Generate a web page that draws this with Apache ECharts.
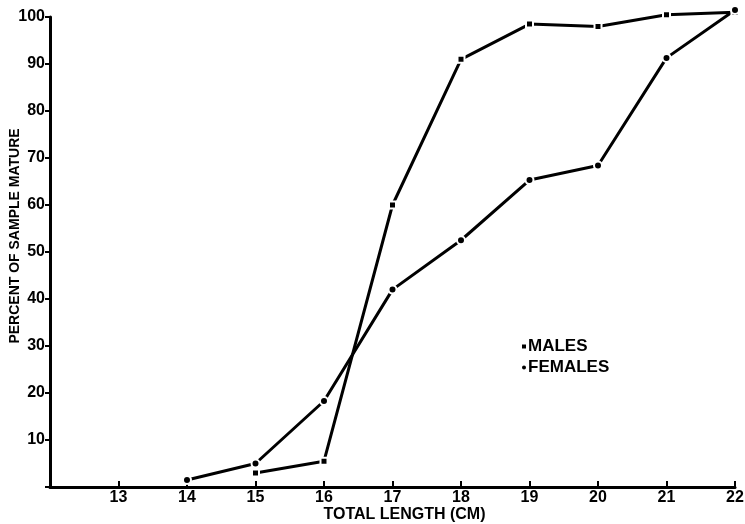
<!DOCTYPE html>
<html>
<head>
<meta charset="utf-8">
<script src="https://cdn.jsdelivr.net/npm/echarts@6/dist/echarts.min.js"></script>
<style>
  html, body { margin: 0; padding: 0; background: #fff; }
  #main { width: 745px; height: 524px; }
</style>
</head>
<body>
<div id="main"></div>
<script>
// data
var maleLength = [15, 16, 17, 18, 19, 20, 21, 22];
var malePct = [3, 5.5, 60, 91, 98.5, 98, 100.5, 101];
var femaleLength = [14, 15, 16, 17, 18, 19, 20, 21, 22];
var femalePct = [1.5, 5, 18.3, 42, 52.5, 65.3, 68.4, 91.3, 101.5];
var yTicks = [10, 20, 30, 40, 50, 60, 70, 80, 90, 100];

function pairs(xs, ys) {
  return xs.map(function (x, i) { return [x, ys[i]]; });
}

var font = '"Liberation Sans", Arial, sans-serif';
var chart = echarts.init(document.getElementById('main'));

var option = {
  backgroundColor: '#fff',
  animation: false,
  grid: { left: 50, right: 10, top: 17, bottom: 37, containLabel: false, outerBoundsMode: 'none' },
  legend: {
    orient: 'vertical',
    left: 520,
    top: 338,
    itemWidth: 6,
    itemHeight: 6,
    itemGap: 4,
    padding: 0,
    textStyle: { fontFamily: font, fontWeight: 'bold', fontSize: 17, color: '#000', padding: [0, 0, 0, -4] },
    data: [
      { name: 'MALES', icon: 'rect' },
      { name: 'FEMALES', icon: 'circle' }
    ]
  },
  xAxis: {
    type: 'value',
    min: 12,
    max: 22,
    interval: 1,
    name: 'TOTAL LENGTH (CM)',
    nameLocation: 'middle',
    nameMoveOverlap: false,
    nameGap: 20,
    nameTextStyle: { fontFamily: font, fontWeight: 'bold', fontSize: 16, color: '#000', padding: [0, 0, 0, 24] },
    axisLine: { lineStyle: { color: '#000', width: 3 } },
    axisTick: { inside: true, length: 6, lineStyle: { color: '#000', width: 2 } },
    axisLabel: {
      fontFamily: font, fontWeight: 'bold', fontSize: 16, color: '#000', margin: 3,
      formatter: function (v) { return v === 12 ? '' : v; }
    },
    splitLine: { show: false }
  },
  yAxis: {
    type: 'value',
    min: 0,
    max: 100,
    interval: 10,
    name: 'PERCENT OF SAMPLE MATURE',
    nameLocation: 'middle',
    nameRotate: 90,
    nameMoveOverlap: false,
    nameGap: 28,
    nameTextStyle: { fontFamily: font, fontWeight: 'bold', fontSize: 14, color: '#000', padding: [0, 0, 0, 32] },
    axisLine: { show: true, lineStyle: { color: '#000', width: 3 } },
    axisTick: { show: true, length: 5, lineStyle: { color: '#000', width: 2 } },
    axisLabel: {
      fontFamily: font, fontWeight: 'bold', fontSize: 16, color: '#000', margin: 5,
      formatter: function (v) { return yTicks.indexOf(v) >= 0 ? v : ''; }
    },
    splitLine: { show: false }
  },
  series: [
    {
      name: 'MALES',
      type: 'line',
      clip: false,
      symbol: 'rect',
      symbolSize: 7,
      itemStyle: { color: '#000', borderColor: '#fff', borderWidth: 2 },
      lineStyle: { color: '#000', width: 3 },
      data: pairs(maleLength, malePct)
    },
    {
      name: 'FEMALES',
      type: 'line',
      clip: false,
      symbol: 'circle',
      symbolSize: 8,
      itemStyle: { color: '#000', borderColor: '#fff', borderWidth: 2 },
      lineStyle: { color: '#000', width: 3 },
      data: pairs(femaleLength, femalePct)
    }
  ]
};
chart.setOption(option);
</script>
</body>
</html>
